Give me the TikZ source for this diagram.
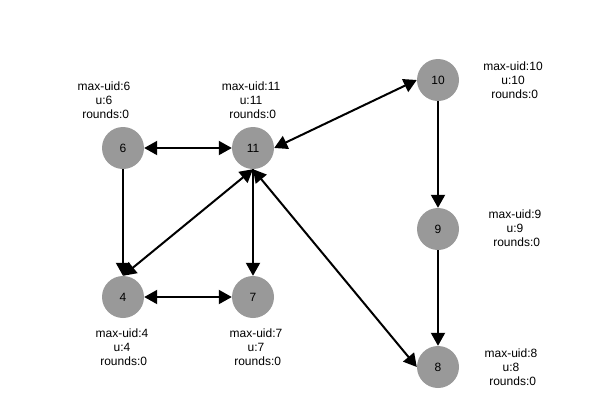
\documentclass[tikz,border=0pt]{standalone}
\usepackage{fontspec}
\setmainfont{Liberation Sans}
\usetikzlibrary{arrows.meta}

\begin{document}
\begin{tikzpicture}[x=1pt, y=-1pt,
    process/.style ={circle, fill=black!40, minimum size=42pt, inner sep=0pt,
                     font=\fontsize{12}{14}\selectfont},
    info/.style ={align=center, inner sep=0pt, font=\fontsize{12}{14}\selectfont},
    link/.style ={line width=2pt, -{Triangle[length=13pt,width=14pt]}},
    both/.style ={line width=2pt, {Triangle[length=13pt,width=14pt]}-{Triangle[length=13pt,width=14pt]}}]
   \useasboundingbox (0,0) rectangle (610,408);
   \node[process] (P6)  at (123,148) {6};
   \node[process] (P11) at (253,148) {11};
   \node[process] (P10) at (438,80)  {10};
   \node[process] (P9)  at (438,229) {9};
   \node[process] (P4)  at (123,297) {4};
   \node[process] (P7)  at (253,297) {7};
   \node[process] (P8)  at (438,367) {8};
   \node[info] (L6)  at (104,100) {max-uid:6\\u:6\\\ rounds:0};
   \node[info] (L11) at (251,100) {max-uid:11\\u:11\\\ rounds:0};
   \node[info] (L10) at (513,80)  {max-uid:10\\u:10\\\ rounds:0};
   \node[info] (L9)  at (515,228) {max-uid:9\\u:9\\\ rounds:0};
   \node[info] (L4)  at (122,347) {max-uid:4\\u:4\\\ rounds:0};
   \node[info] (L7)  at (256,347) {max-uid:7\\u:7\\\ rounds:0};
   \node[info] (L8)  at (511,367) {max-uid:8\\u:8\\\ rounds:0};
   \draw[both] (P6) to (P11);
   \draw[link] (P6) to (P4);
   \draw[both] (P4.north) to (P11.south);
   \draw[both] (P4) to (P7);
   \draw[link] (P11) to (P7);
   \draw[both] (P11.south) to (P8.west);
   \draw[both] (P11.east) to (P10.west);
   \draw[link] (P10) to (P9);
   \draw[link] (P9) to (P8);
 \end{tikzpicture}
\end{document}
